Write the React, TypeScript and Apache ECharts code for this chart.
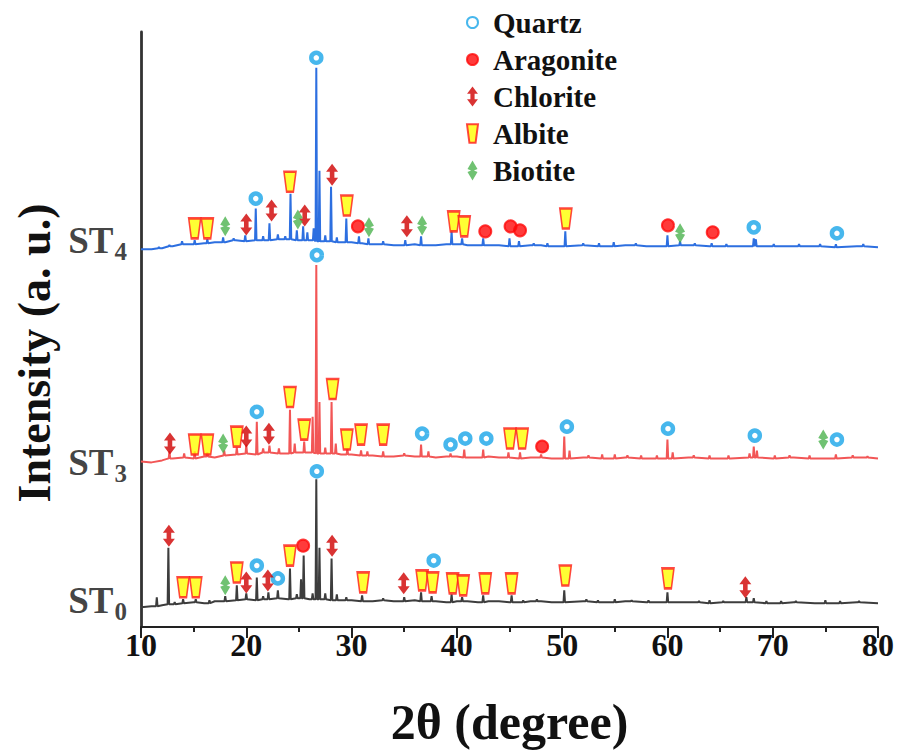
import React, { useEffect, useRef } from "react";
import * as echarts from "echarts";

const SERIF = '"Liberation Serif", "Times New Roman", serif';

// 2θ axis
const thetaMin = 10;
const thetaMax = 80;
const thetaStep = 10;

// Mineral phases shown in the key
const minerals = ["Quartz", "Aragonite", "Chlorite", "Albite", "Biotite"];

// Sample traces (stacked, arbitrary units): background levels and peak tops, [2θ, intensity]
const st0Background = [
  [10, 20], [11, 21], [12, 22], [13, 23], [14, 24], [15, 25], [16, 24], [17, 26], [18, 26], [19, 27],
  [20, 28], [21, 27], [22, 28], [23, 29], [24, 28], [25, 29], [26, 28], [27, 28], [28, 27], [29, 27],
  [30, 27], [31, 26], [32, 26], [33, 27], [34, 26], [35, 26], [36, 27], [37, 26], [38, 26], [39, 25],
  [40, 26], [41, 26], [42, 25], [43, 26], [44, 26], [45, 25], [46, 25], [47, 26], [48, 26], [49, 25],
  [50, 25], [52, 26], [54, 25], [56, 26], [58, 25], [60, 25], [62, 25], [64, 24], [66, 25], [68, 25],
  [70, 24], [72, 25], [74, 24], [76, 24], [78, 25], [80, 24],
];
const st0Peaks = [
  [11.5, 30], [12.6, 80], [13.2, 25], [14.0, 28], [15.2, 28], [16.5, 27], [18.0, 31], [19.1, 42],
  [20.0, 34], [21.0, 50], [21.6, 31], [22.1, 35], [23.0, 37], [24.15, 59], [24.8, 33], [25.2, 48],
  [25.45, 72], [26.3, 34], [26.65, 149], [26.95, 80], [27.5, 34], [28.1, 69], [28.6, 33], [29.5, 30],
  [31.0, 32], [33.0, 29], [35.0, 30], [36.6, 35], [37.6, 31], [39.5, 33], [40.5, 30], [42.5, 32],
  [45.2, 32], [46.3, 27], [47.6, 28], [50.2, 37], [52.3, 28], [53.4, 27], [55.0, 28], [56.6, 27],
  [58.2, 27], [60.0, 35], [63.0, 26], [64.0, 27], [65.3, 26], [67.5, 30], [68.2, 29], [69.4, 26],
  [70.8, 26], [72.2, 26], [75.0, 27], [76.4, 26], [78.2, 26],
];

const st3Background = [
  [10, 167], [11, 166], [12, 168], [13, 170], [14, 171], [15, 170], [16, 172], [17, 171], [18, 173], [19, 174],
  [20, 175], [21, 174], [22, 176], [23, 175], [24, 175], [25, 176], [26, 176], [27, 175], [28, 175], [29, 174],
  [30, 174], [31, 173], [32, 173], [33, 172], [34, 172], [35, 173], [36, 172], [37, 172], [38, 171], [39, 172],
  [40, 172], [41, 171], [42, 171], [43, 172], [44, 171], [45, 171], [46, 170], [47, 171], [48, 171], [49, 170],
  [50, 170], [52, 171], [54, 170], [56, 171], [58, 170], [60, 170], [62, 171], [64, 170], [66, 170], [68, 171],
  [70, 170], [72, 171], [74, 170], [76, 170], [78, 171], [80, 170],
];
const st3Peaks = [
  [12.7, 177], [14.1, 175], [15.1, 177], [16.3, 176], [17.9, 178], [19.1, 181], [20.0, 184], [21.0, 207],
  [21.6, 180], [22.2, 183], [23.1, 180], [24.15, 219], [24.6, 185], [25.5, 187], [26.3, 212], [26.65, 365],
  [26.95, 227], [27.5, 181], [28.1, 227], [28.5, 185], [29.6, 180], [30.9, 178], [31.5, 177], [33.0, 177],
  [35.0, 175], [36.6, 184], [37.3, 177], [39.4, 175], [40.7, 179], [42.5, 179], [44.9, 176], [46.0, 176],
  [48.0, 174], [50.2, 192], [50.7, 178], [52.5, 173], [53.8, 174], [55.0, 174], [56.2, 173], [57.5, 173],
  [59.0, 173], [60.0, 189], [60.5, 176], [62.5, 173], [64.0, 173], [65.8, 173], [67.8, 175], [68.2, 182],
  [68.5, 178], [70.2, 173], [71.6, 173], [73.5, 173], [76.0, 174], [77.6, 173], [79.0, 172],
];

const st4Background = [
  [10, 381], [11, 381], [12, 382], [13, 384], [14, 386], [15, 386], [16, 387], [17, 388], [18, 388], [19, 390],
  [20, 389], [21, 390], [22, 390], [23, 391], [24, 391], [25, 390], [26, 390], [27, 389], [28, 389], [29, 388],
  [30, 388], [31, 387], [32, 386], [33, 386], [34, 385], [35, 385], [36, 386], [37, 385], [38, 385], [39, 386],
  [40, 386], [41, 385], [42, 385], [43, 385], [44, 385], [45, 384], [46, 384], [47, 385], [48, 385], [49, 384],
  [50, 384], [52, 385], [54, 384], [56, 385], [58, 384], [60, 384], [62, 385], [64, 384], [66, 384], [68, 384],
  [70, 384], [72, 384], [74, 384], [76, 383], [78, 384], [80, 383],
];
const st4Peaks = [
  [11.7, 383], [12.7, 385], [13.9, 389], [15.1, 390], [16.3, 391], [17.8, 393], [18.8, 392], [19.9, 395],
  [20.9, 422], [21.6, 394], [22.2, 407], [23.0, 396], [23.7, 394], [24.2, 437], [24.8, 400], [25.4, 404],
  [25.8, 398], [26.4, 402], [26.65, 564], [26.95, 460], [27.5, 395], [28.05, 444], [28.6, 393], [29.5, 412],
  [30.7, 394], [31.6, 392], [33.0, 389], [35.1, 390], [36.6, 394], [39.5, 399], [40.5, 392], [42.5, 392],
  [45.0, 392], [45.9, 389], [47.3, 387], [48.6, 387], [50.3, 399], [52.0, 387], [53.5, 387], [54.9, 388],
  [57.0, 387], [60.0, 395], [61.2, 389], [62.6, 387], [64.2, 387], [65.6, 386], [68.2, 392], [68.4, 391],
  [70.1, 386], [72.5, 386], [74.5, 386], [76.0, 386], [78.6, 386],
];

// Phase identification marks, [2θ, intensity] (ST4, then ST3, then ST0)
const quartzMarks = [
  [20.9, 432], [26.65, 574], [68.2, 403], [76.1, 397],
  [21.0, 217], [26.7, 375], [36.7, 195], [39.4, 184], [40.8, 190], [42.8, 190], [50.45, 202], [60.05, 200], [68.3, 193], [76.1, 189],
  [21.0, 62], [23.0, 49], [26.7, 157], [37.8, 67],
];
const aragoniteMarks = [
  [30.6, 404], [42.7, 399], [45.1, 404], [46.0, 400], [60.05, 405], [64.3, 398],
  [48.1, 182],
  [25.4, 82],
];
const chloriteMarks = [
  [20.0, 406], [22.4, 420], [25.55, 415], [28.15, 456], [35.25, 404],
  [12.75, 185], [20.0, 192], [22.15, 195],
  [12.65, 92], [20.0, 45], [22.05, 47], [28.15, 82], [34.95, 44], [67.4, 40],
];
const albiteMarks = [
  [15.1, 402], [16.3, 402], [24.15, 449], [29.55, 425], [39.7, 409], [40.7, 404], [50.35, 412],
  [15.1, 184], [16.3, 184], [19.1, 192], [24.15, 232], [25.5, 199], [28.2, 240], [29.55, 189], [30.9, 194], [33.0, 194], [45.05, 190], [46.2, 190],
  [14.0, 40], [15.2, 40], [19.1, 55], [24.15, 72], [31.1, 45], [36.7, 47], [37.7, 45], [39.6, 44], [40.6, 42], [42.7, 44], [45.2, 44], [50.3, 52], [60.05, 49],
];
const biotiteMarks = [
  [18.0, 404], [24.9, 411], [31.65, 403], [36.7, 405], [61.2, 397],
  [17.8, 185], [74.8, 189],
  [18.0, 42],
];

// Merge background and peak tops into one polyline; each peak rises from the nearest background level.
function buildProfile(bg: number[][], peaks: number[][]): number[][] {
  const nearestBase = (t: number) => {
    let best = bg[0];
    for (const p of bg) if (Math.abs(p[0] - t) < Math.abs(best[0] - t)) best = p;
    return best[1];
  };
  const pts: number[][] = bg
    .filter((p) => !peaks.some((k) => Math.abs(k[0] - p[0]) < 0.12))
    .map((p) => [p[0], p[1]]);
  for (const [t, top] of peaks) {
    const b = nearestBase(t);
    pts.push([t - 0.07, b], [t, top], [t + 0.07, b]);
  }
  pts.sort((a, b) => a[0] - b[0]);
  return pts;
}

const traces = [
  { name: "ST0", sub: "0", color: "#3d3d3d", labelShift: -7, data: buildProfile(st0Background, st0Peaks), start: st0Background[0][1] },
  { name: "ST3", sub: "3", color: "#f25656", labelShift: 1, data: buildProfile(st3Background, st3Peaks), start: st3Background[0][1] },
  { name: "ST4", sub: "4", color: "#2d6fe0", labelShift: -9, data: buildProfile(st4Background, st4Peaks), start: st4Background[0][1] },
];

const CHLORITE_PATH = "path://M6,0L12,8L8.3,8L8.3,14L12,14L6,22L0,14L3.7,14L3.7,8L0,8Z";
const BIOTITE_PATH = "path://M5,0L10,8.5L6.4,10L10,11.5L5,20L0,11.5L3.6,10L0,8.5Z";
const ALBITE_PATH = "path://M0,0L12,0L9.4,20L2.6,20Z";

function buildOption(): echarts.EChartsCoreOption {
  const lineSeries = traces.map((t) => ({
    name: t.name,
    type: "line",
    data: t.data,
    showSymbol: false,
    symbol: "none",
    silent: true,
    z: 2,
    lineStyle: { color: t.color, width: 2 },
  }));

  const labelSeries = traces.map((t) => ({
    name: `${t.name} label`,
    type: "scatter",
    silent: true,
    symbolSize: 0,
    z: 6,
    data: [{ value: [thetaMin, t.start], name: t.sub }],
    label: {
      show: true,
      position: "left",
      distance: 14,
      offset: [0, t.labelShift],
      formatter: (p: any) => `{a|ST}{b|${p.name}}`,
      rich: {
        a: { fontFamily: SERIF, fontWeight: "bold", fontSize: 37, color: "#111111", lineHeight: 40 },
        b: { fontFamily: SERIF, fontWeight: "bold", fontSize: 25, color: "#111111", lineHeight: 25, padding: [23, 0, 0, 1] },
      },
    },
  }));

  const markStyle = { z: 5, silent: true, type: "scatter" };

  return {
    animation: false,
    backgroundColor: "#ffffff",
    grid: { left: 141, right: 22, top: 32, bottom: 120, containLabel: false },
    legend: {
      data: minerals,
      orient: "vertical",
      left: 461,
      top: 3,
      itemWidth: 11,
      itemHeight: 20,
      itemGap: 8,
      selectedMode: false,
      textStyle: {
        fontFamily: SERIF,
        fontWeight: "bold",
        fontSize: 29,
        color: "#111111",
        padding: [0, 0, 0, 10],
      },
    },
    xAxis: {
      type: "value",
      min: thetaMin,
      max: thetaMax,
      interval: thetaStep,
      name: "2θ (degree)",
      nameLocation: "middle",
      nameGap: 70,
      nameTextStyle: { fontFamily: SERIF, fontWeight: "bold", fontSize: 50, color: "#111111" },
      axisLine: { show: true, lineStyle: { color: "#222222", width: 2 } },
      axisTick: { show: true, length: 11, lineStyle: { color: "#222222", width: 2 } },
      minorTick: { show: true, splitNumber: 2, length: 5, lineStyle: { color: "#222222", width: 2 } },
      splitLine: { show: false },
      axisLabel: { fontFamily: SERIF, fontWeight: "bold", fontSize: 32, color: "#111111", margin: 2 },
    },
    yAxis: {
      type: "value",
      min: 0,
      max: 600,
      axisLine: { show: true, onZero: false, lineStyle: { color: "#333333", width: 2.8 } },
      axisTick: { show: false },
      axisLabel: { show: false },
      splitLine: { show: false },
    },
    graphic: [
      {
        type: "text",
        x: 34,
        y: 353,
        rotation: Math.PI / 2,
        style: {
          text: "Intensity (a. u.)",
          font: `bold 46px ${SERIF}`,
          fill: "#111111",
          textAlign: "center",
          textVerticalAlign: "middle",
        },
      },
    ],
    series: [
      ...lineSeries,
      ...labelSeries,
      {
        ...markStyle,
        name: "Quartz",
        symbol: "circle",
        symbolSize: 10,
        itemStyle: { color: "#ffffff", borderColor: "#19a5e8", borderWidth: 4.5 },
        data: quartzMarks,
      },
      {
        ...markStyle,
        name: "Aragonite",
        symbol: "circle",
        symbolSize: 12,
        itemStyle: { color: "#ff0a0a", borderColor: "#ff0a0a", borderWidth: 2 },
        data: aragoniteMarks,
      },
      {
        ...markStyle,
        name: "Chlorite",
        symbol: CHLORITE_PATH,
        symbolSize: [12, 22],
        itemStyle: { color: "#d00000" },
        data: chloriteMarks,
      },
      {
        ...markStyle,
        name: "Albite",
        symbol: ALBITE_PATH,
        symbolSize: [12, 20],
        itemStyle: { color: "#ffff00", borderColor: "#ff1a1a", borderWidth: 2 },
        data: albiteMarks,
      },
      {
        ...markStyle,
        name: "Biotite",
        symbol: BIOTITE_PATH,
        symbolSize: [10, 20],
        itemStyle: { color: "#4cb34f" },
        data: biotiteMarks,
      },
    ],
  };
}

export default function App() {
  const ref = useRef<HTMLDivElement>(null);
  useEffect(() => {
    if (!ref.current) return;
    const chart = echarts.init(ref.current, null, { renderer: "svg" });
    chart.setOption(buildOption());
    return () => chart.dispose();
  }, []);
  return (
    <div
      ref={ref}
      style={{ position: "fixed", left: 0, top: 0, width: 900, height: 752, background: "#ffffff" }}
    />
  );
}
